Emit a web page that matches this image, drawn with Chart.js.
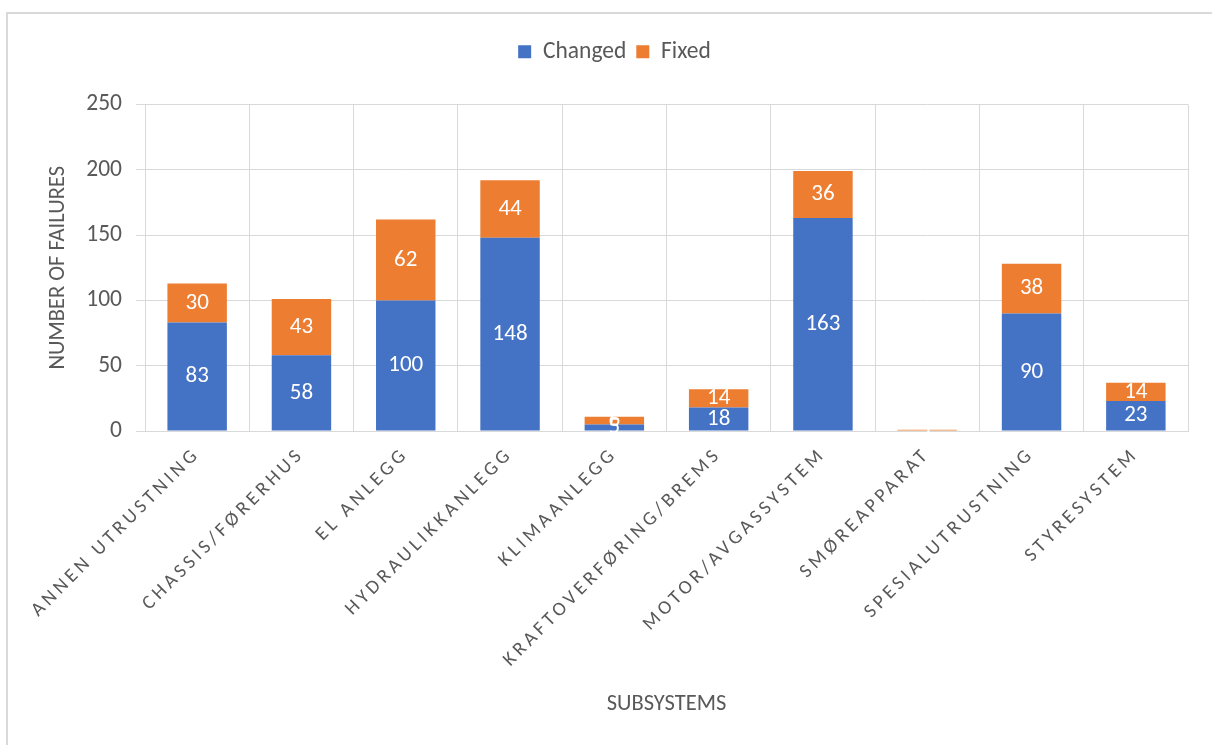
<!DOCTYPE html>
<html>
<head>
<meta charset="utf-8">
<script src="https://cdn.jsdelivr.net/npm/chart.js@4.4.1/dist/chart.umd.min.js"></script>
<style>
  html, body { margin: 0; padding: 0; background: #ffffff; }
  #wrap { position: relative; width: 1212px; height: 745px; }
</style>
</head>
<body>
<div id="wrap"><canvas id="chart" width="1212" height="745"></canvas></div>
<script>
// Failure counts per subsystem
const subsystems = [
  'ANNEN UTRUSTNING', 'CHASSIS/FØRERHUS', 'EL ANLEGG', 'HYDRAULIKKANLEGG', 'KLIMAANLEGG',
  'KRAFTOVERFØRING/BREMS', 'MOTOR/AVGASSYSTEM', 'SMØREAPPARAT', 'SPESIALUTRUSTNING', 'STYRESYSTEM'
];
const changedCounts = [83, 58, 100, 148, 5, 18, 163, 0, 90, 23];
const fixedCounts   = [30, 43, 62, 44, 6, 14, 36, 1, 38, 14];
const seriesNames = ['Changed', 'Fixed'];
const yTitle = 'NUMBER OF FAILURES';
const xTitle = 'SUBSYSTEMS';

const FONT = 'Calibri, Carlito, Lato, sans-serif';
const TEXT = '#595959';
const GRID = '#d9d9d9';

// Frame around the whole chart
const framePlugin = {
  id: 'frame',
  beforeDraw(chart) {
    const ctx = chart.ctx;
    ctx.save();
    ctx.fillStyle = '#ffffff';
    ctx.fillRect(0, 0, chart.width, chart.height);
    ctx.strokeStyle = GRID;
    ctx.lineWidth = 2;
    ctx.strokeRect(7, 13, chart.width + 20, chart.height + 20);
    ctx.restore();
  }
};

// Extra room below the legend
const legendGap = {
  id: 'legendGap',
  beforeInit(chart) {
    const fit = chart.legend.fit;
    chart.legend.fit = function () {
      fit.call(this);
      this.height += 31;
    };
  }
};

// Spaced-out category labels
const spacedLabels = {
  id: 'spacedLabels',
  beforeDraw(chart) {
    const sx = chart.scales.x;
    if (sx && !sx._spaced) {
      const base = Object.getPrototypeOf(sx).drawLabels;
      sx.drawLabels = function (area) {
        this.ctx.save();
        this.ctx.letterSpacing = '3.8px';
        base.call(this, area);
        this.ctx.restore();
      };
      sx._spaced = true;
    }
  }
};

// Value labels centred in each bar segment
const valueLabels = {
  id: 'valueLabels',
  afterDatasetsDraw(chart) {
    const ctx = chart.ctx;
    ctx.save();
    ctx.font = '23px ' + FONT;
    ctx.fillStyle = '#ffffff';
    ctx.textAlign = 'center';
    ctx.textBaseline = 'middle';
    chart.data.datasets.forEach((ds, di) => {
      const meta = chart.getDatasetMeta(di);
      meta.data.forEach((bar, i) => {
        const v = ds.data[i];
        if (!v) return;
        ctx.fillText(String(v), bar.x, (bar.y + bar.base) / 2);
      });
    });
    ctx.restore();
  }
};

new Chart(document.getElementById('chart'), {
  type: 'bar',
  data: {
    labels: subsystems,
    datasets: [
      { label: seriesNames[0], data: changedCounts, backgroundColor: '#4472C4', borderWidth: 0 },
      { label: seriesNames[1], data: fixedCounts, backgroundColor: '#ED7D31', borderWidth: 0 }
    ]
  },
  options: {
    responsive: false,
    animation: false,
    events: [],
    layout: { padding: { top: 30, left: 41, right: 24, bottom: 23 } },
    datasets: { bar: { categoryPercentage: 1, barPercentage: 0.57 } },
    plugins: {
      legend: {
        position: 'top',
        labels: {
          boxWidth: 13, boxHeight: 13, padding: 10,
          color: TEXT,
          font: { family: FONT, size: 23.5 }
        }
      },
      tooltip: { enabled: false }
    },
    scales: {
      x: {
        stacked: true,
        grid: { color: GRID, offset: true, drawTicks: false },
        border: { color: GRID },
        ticks: {
          color: TEXT, maxRotation: 45, minRotation: 45, autoSkip: false, padding: 12,
          font: { family: FONT, size: 19.5 }
        },
        title: {
          display: true, text: xTitle, color: TEXT,
          font: { family: FONT, size: 22.5 }, padding: { top: 4, bottom: 4 }
        },
        afterFit(scale) { scale.height = 745 - 431 - 23; }
      },
      y: {
        stacked: true,
        min: 0, max: 250,
        grid: { color: GRID, tickLength: 9 },
        border: { color: GRID },
        ticks: {
          stepSize: 50, color: TEXT, padding: 14,
          font: { family: FONT, size: 23.5 }
        },
        title: {
          display: true, text: yTitle, color: TEXT,
          font: { family: FONT, size: 22.5 }, padding: { top: 4, bottom: 4 }
        },
        afterFit(scale) { scale.width = 145 - 41; }
      }
    }
  },
  plugins: [framePlugin, legendGap, spacedLabels, valueLabels]
});
</script>
</body>
</html>
